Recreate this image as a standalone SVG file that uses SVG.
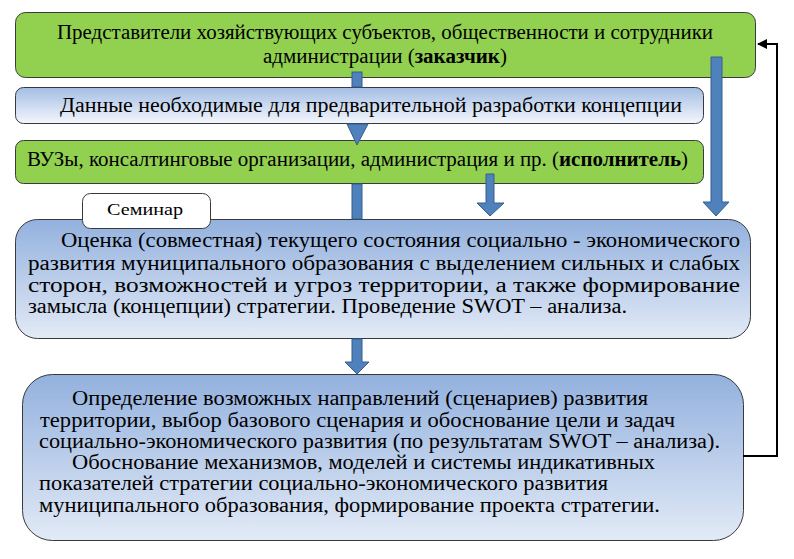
<svg xmlns="http://www.w3.org/2000/svg" width="794" height="559" viewBox="0 0 794 559">
<defs>
<linearGradient id="gBlue" x1="0" y1="0" x2="0" y2="1">
<stop offset="0" stop-color="#93b1de"/>
<stop offset="1" stop-color="#e2eaf6"/>
</linearGradient>
<linearGradient id="gBlue2" x1="0" y1="0" x2="0" y2="1">
<stop offset="0" stop-color="#a3bde4"/>
<stop offset="1" stop-color="#f4f7fc"/>
</linearGradient>
<marker id="arrowL" viewBox="0 0 10 10" refX="9" refY="5" markerWidth="5" markerHeight="5" orient="auto">
<path d="M0,0 L10,5 L0,10 z" fill="#000"/>
</marker>
<style>
.box{stroke:#3a3a3a;stroke-width:1}
.green{fill:#92d050}
.t{font-family:'Liberation Serif','Times New Roman',serif;fill:#000}
.blk{fill:#4f81bd;stroke:#385d8a;stroke-width:1}
.fb{fill:none;stroke:#000;stroke-width:2}
</style>
</defs>
<rect width="794" height="559" fill="#fff"/>

<g id="node-customer">
<rect class="box green" x="15.5" y="12.5" width="740" height="65" rx="10"/>
<text class="t" x="57" y="39" font-size="20.5" textLength="656" lengthAdjust="spacingAndGlyphs">Представители хозяйствующих субъектов, общественности и сотрудники</text>
<text class="t" x="263" y="63" font-size="20.5" textLength="244" lengthAdjust="spacingAndGlyphs">администрации (<tspan font-weight="bold">заказчик</tspan>)</text>
</g>

<g id="node-data">
<rect class="box" x="15.5" y="87.5" width="688" height="36" rx="8" fill="url(#gBlue2)"/>
<text class="t" x="60" y="112" font-size="20" textLength="622" lengthAdjust="spacingAndGlyphs">Данные  необходимые  для  предварительной  разработки  концепции</text>
</g>

<g id="node-executor">
<rect class="box green" x="15.5" y="140.5" width="688" height="43" rx="8"/>
<text class="t" x="27" y="166" font-size="20" textLength="661" lengthAdjust="spacingAndGlyphs">ВУЗы, консалтинговые организации, администрация и пр. (<tspan font-weight="bold">исполнитель</tspan>)</text>
</g>

<g id="node-assessment">
<rect class="box" x="15.5" y="219.5" width="735" height="119" rx="22" fill="url(#gBlue)"/>
<text class="t" font-size="20">
<tspan x="61" y="247" textLength="679" lengthAdjust="spacingAndGlyphs">Оценка (совместная) текущего состояния социально - экономического</tspan>
<tspan x="28" y="270" textLength="712" lengthAdjust="spacingAndGlyphs">развития муниципального образования с выделением сильных и слабых</tspan>
<tspan x="28" y="292" textLength="712" lengthAdjust="spacingAndGlyphs">сторон,   возможностей   и   угроз   территории,   а   также   формирование</tspan>
<tspan x="28" y="313" textLength="599" lengthAdjust="spacingAndGlyphs">замысла (концепции) стратегии. Проведение SWOT – анализа.</tspan>
</text>
</g>

<g id="node-seminar">
<rect class="box" x="82.5" y="193.5" width="128" height="35" rx="8" fill="#fff"/>
<text class="t" x="107" y="215" font-size="17" textLength="76" lengthAdjust="spacingAndGlyphs">Семинар</text>
</g>

<g id="node-strategy">
<rect class="box" x="22.5" y="374.5" width="721" height="166" rx="30" fill="url(#gBlue)"/>
<text class="t" font-size="20">
<tspan x="72" y="405" textLength="576" lengthAdjust="spacingAndGlyphs">Определение возможных направлений (сценариев) развития</tspan>
<tspan x="40" y="427" textLength="635" lengthAdjust="spacingAndGlyphs">территории, выбор базового сценария и обоснование цели и задач</tspan>
<tspan x="39" y="448" textLength="681" lengthAdjust="spacingAndGlyphs">социально-экономического развития (по результатам SWOT – анализа).</tspan>
<tspan x="72" y="469" textLength="583" lengthAdjust="spacingAndGlyphs">Обоснование механизмов, моделей и системы индикативных</tspan>
<tspan x="39" y="490" textLength="569" lengthAdjust="spacingAndGlyphs">показателей стратегии социально-экономического развития</tspan>
<tspan x="39" y="512" textLength="621" lengthAdjust="spacingAndGlyphs">муниципального образования, формирование проекта стратегии.</tspan>
</text>
</g>

<g id="connectors">
<rect class="blk" x="352" y="72" width="10" height="15"/>
<path class="blk" d="M347,124 L357,145 L368,124 Z"/>
<rect class="blk" x="352" y="184" width="10" height="35"/>
<path class="blk" d="M352,339 L362,339 L362,362 L369,362 L357,374 L345,362 L352,362 Z"/>
<path class="blk" d="M486,174 L494,174 L494,203 L504,203 L490,216 L477,203 L486,203 Z"/>
<path class="blk" d="M711,57 L722,57 L722,202 L729,202 L716,216 L703,202 L711,202 Z"/>
<polyline class="fb" points="743,456 777,456 777,44 758,44" marker-end="url(#arrowL)"/>
</g>
</svg>
